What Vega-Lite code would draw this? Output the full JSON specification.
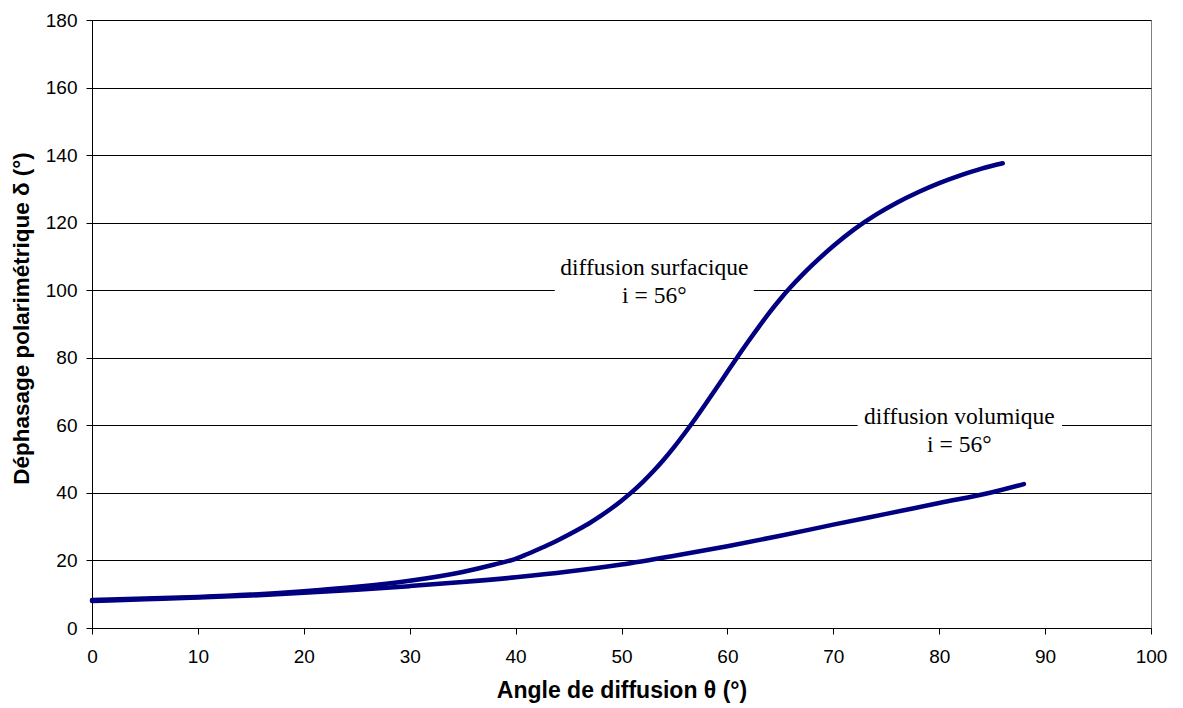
{
  "$schema": "https://vega.github.io/schema/vega-lite/v6.json",
  "width": 1059,
  "height": 608,
  "autosize": "none",
  "padding": {"left": 92, "top": 20, "right": 32, "bottom": 80},
  "background": "white",
  "config": {
    "view": {"stroke": "#808080", "strokeWidth": 1},
    "axis": {
      "labelFont": "Liberation Sans",
      "labelFontSize": 19,
      "labelColor": "black",
      "labelFlush": false,
      "titleFont": "Liberation Sans",
      "titleFontWeight": "bold",
      "titleColor": "black",
      "domainColor": "black",
      "tickColor": "black",
      "gridColor": "black",
      "gridOpacity": 1,
      "tickSize": 6
    }
  },
  "datasets": {
    "curves": [
      {"theta": 0, "delta": 8.3, "serie": "surfacique"},
      {"theta": 5, "delta": 8.7, "serie": "surfacique"},
      {"theta": 10, "delta": 9.2, "serie": "surfacique"},
      {"theta": 15, "delta": 9.9, "serie": "surfacique"},
      {"theta": 20, "delta": 10.9, "serie": "surfacique"},
      {"theta": 25, "delta": 12.2, "serie": "surfacique"},
      {"theta": 30, "delta": 14.0, "serie": "surfacique"},
      {"theta": 35, "delta": 16.6, "serie": "surfacique"},
      {"theta": 38, "delta": 18.8, "serie": "surfacique"},
      {"theta": 40, "delta": 20.5, "serie": "surfacique"},
      {"theta": 41, "delta": 21.75, "serie": "surfacique"},
      {"theta": 42, "delta": 23.1, "serie": "surfacique"},
      {"theta": 43, "delta": 24.5, "serie": "surfacique"},
      {"theta": 44, "delta": 26.0, "serie": "surfacique"},
      {"theta": 45, "delta": 27.6, "serie": "surfacique"},
      {"theta": 46, "delta": 29.3, "serie": "surfacique"},
      {"theta": 47, "delta": 31.1, "serie": "surfacique"},
      {"theta": 48, "delta": 33.1, "serie": "surfacique"},
      {"theta": 49, "delta": 35.3, "serie": "surfacique"},
      {"theta": 50, "delta": 37.7, "serie": "surfacique"},
      {"theta": 51, "delta": 40.3, "serie": "surfacique"},
      {"theta": 52, "delta": 43.2, "serie": "surfacique"},
      {"theta": 53, "delta": 46.4, "serie": "surfacique"},
      {"theta": 54, "delta": 49.9, "serie": "surfacique"},
      {"theta": 55, "delta": 53.7, "serie": "surfacique"},
      {"theta": 56, "delta": 57.8, "serie": "surfacique"},
      {"theta": 57, "delta": 62.1, "serie": "surfacique"},
      {"theta": 58, "delta": 66.6, "serie": "surfacique"},
      {"theta": 59, "delta": 71.2, "serie": "surfacique"},
      {"theta": 60, "delta": 75.85, "serie": "surfacique"},
      {"theta": 61, "delta": 80.45, "serie": "surfacique"},
      {"theta": 62, "delta": 84.95, "serie": "surfacique"},
      {"theta": 63, "delta": 89.3, "serie": "surfacique"},
      {"theta": 64, "delta": 93.5, "serie": "surfacique"},
      {"theta": 65, "delta": 97.4, "serie": "surfacique"},
      {"theta": 66, "delta": 101.0, "serie": "surfacique"},
      {"theta": 67, "delta": 104.3, "serie": "surfacique"},
      {"theta": 68, "delta": 107.4, "serie": "surfacique"},
      {"theta": 70, "delta": 113.1, "serie": "surfacique"},
      {"theta": 72, "delta": 118.1, "serie": "surfacique"},
      {"theta": 74, "delta": 122.3, "serie": "surfacique"},
      {"theta": 76, "delta": 125.9, "serie": "surfacique"},
      {"theta": 78, "delta": 129.0, "serie": "surfacique"},
      {"theta": 80, "delta": 131.7, "serie": "surfacique"},
      {"theta": 82, "delta": 134.0, "serie": "surfacique"},
      {"theta": 84, "delta": 136.0, "serie": "surfacique"},
      {"theta": 86, "delta": 137.6, "serie": "surfacique"},
      {"theta": 0, "delta": 8.0, "serie": "volumique"},
      {"theta": 5, "delta": 8.5, "serie": "volumique"},
      {"theta": 10, "delta": 9.0, "serie": "volumique"},
      {"theta": 15, "delta": 9.6, "serie": "volumique"},
      {"theta": 20, "delta": 10.4, "serie": "volumique"},
      {"theta": 25, "delta": 11.3, "serie": "volumique"},
      {"theta": 30, "delta": 12.4, "serie": "volumique"},
      {"theta": 35, "delta": 13.6, "serie": "volumique"},
      {"theta": 40, "delta": 15.0, "serie": "volumique"},
      {"theta": 45, "delta": 16.7, "serie": "volumique"},
      {"theta": 50, "delta": 18.8, "serie": "volumique"},
      {"theta": 55, "delta": 21.4, "serie": "volumique"},
      {"theta": 60, "delta": 24.2, "serie": "volumique"},
      {"theta": 65, "delta": 27.3, "serie": "volumique"},
      {"theta": 70, "delta": 30.6, "serie": "volumique"},
      {"theta": 75, "delta": 33.8, "serie": "volumique"},
      {"theta": 80, "delta": 37.0, "serie": "volumique"},
      {"theta": 85, "delta": 40.2, "serie": "volumique"},
      {"theta": 88, "delta": 42.6, "serie": "volumique"}
    ],
    "labels": [
      {"x": 53.1, "y": 106.7, "x1": 43.7, "x2": 62.5, "y1": 97, "y2": 104, "label": ["diffusion surfacique", "i = 56°"]},
      {"x": 81.9, "y": 62.4, "x1": 72.3, "x2": 91.6, "y1": 57, "y2": 63, "label": ["diffusion volumique", "i = 56°"]}
    ]
  },
  "layer": [
    {
      "data": {"name": "labels"},
      "mark": {"type": "rect", "color": "white"},
      "encoding": {
        "x": {"field": "x1", "type": "quantitative", "scale": {"domain": [0, 100]}},
        "x2": {"field": "x2"},
        "y": {"field": "y1", "type": "quantitative", "scale": {"domain": [0, 180]}},
        "y2": {"field": "y2"}
      }
    },
    {
      "data": {"name": "curves"},
      "mark": {"type": "line", "strokeWidth": 4.5, "interpolate": "monotone", "strokeCap": "round"},
      "encoding": {
        "x": {
          "field": "theta", "type": "quantitative",
          "scale": {"domain": [0, 100], "nice": false},
          "axis": {"values": [0,10,20,30,40,50,60,70,80,90,100], "grid": false, "title": "Angle de diffusion θ (°)", "titleFontSize": 23, "titlePadding": 13, "labelPadding": 13}
        },
        "y": {
          "field": "delta", "type": "quantitative",
          "scale": {"domain": [0, 180], "nice": false},
          "axis": {"values": [0,20,40,60,80,100,120,140,160,180], "grid": true, "title": "Déphasage polarimétrique δ (°)", "titleFontSize": 22.5, "titleY": 298, "titlePadding": 12, "labelPadding": 9}
        },
        "detail": {"field": "serie"},
        "color": {"value": "#000080"}
      }
    },
    {
      "data": {"name": "labels"},
      "mark": {"type": "text", "font": "Liberation Serif", "fontSize": 23.5, "lineHeight": 28, "align": "center", "baseline": "middle", "color": "black"},
      "encoding": {
        "x": {"field": "x", "type": "quantitative"},
        "y": {"field": "y", "type": "quantitative"},
        "text": {"field": "label"}
      }
    }
  ]
}
